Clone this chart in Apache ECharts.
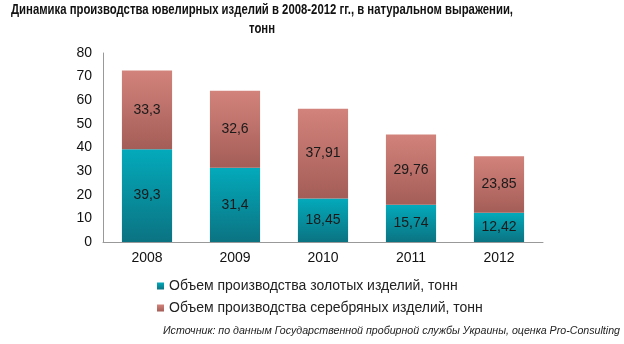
<!DOCTYPE html>
<html><head><meta charset="utf-8">
<script src="https://cdn.jsdelivr.net/npm/echarts@6/dist/echarts.min.js"></script>
<style>html,body{margin:0;padding:0;background:#fff}#c{width:624px;height:344px}</style>
</head><body><div id="c"></div>
<script>
const years = ['2008','2009','2010','2011','2012'];
const goldValues = [39.3, 31.4, 18.45, 15.74, 12.42];
const silverValues = [33.3, 32.6, 37.91, 29.76, 23.85];
const goldLabels = ['39,3','31,4','18,45','15,74','12,42'];
const silverLabels = ['33,3','32,6','37,91','29,76','23,85'];
const seriesNames = ['Объем производства золотых изделий, тонн','Объем производства серебряных изделий, тонн'];
const titleLine1 = 'Динамика производства ювелирных изделий в 2008-2012 гг., в натуральном выражении,';
const titleLine2 = 'тонн';
const sourceText = 'Источник: по данным Государственной пробирной службы Украины, оценка Pro-Consulting';

const chart = echarts.init(document.getElementById('c'), null, {renderer:'canvas'});
function grad(top, bottom){
  return new echarts.graphic.LinearGradient(0,0,0,1,[{offset:0,color:top},{offset:1,color:bottom}]);
}
const ctx = document.createElement('canvas').getContext('2d');
const titleFont = 'bold 14px "Liberation Sans", Arial, sans-serif';
ctx.font = titleFont;
const tw = ctx.measureText(titleLine1).width;
const tScale = 502 / tw;
const srcFont = 'italic 11px "Liberation Sans", Arial, sans-serif';
ctx.font = srcFont;
const sw = ctx.measureText(sourceText).width;
const sScale = 457 / sw;

chart.setOption({
  animation:false,
  grid:{left:103,right:81,top:53,bottom:102},
  legend:{
    orient:'vertical', left:152, top:274, itemGap:8, itemWidth:7, itemHeight:7, icon:'rect',
    textStyle:{fontFamily:'Liberation Sans, Arial, sans-serif',fontSize:14,color:'#222'},
    data:seriesNames
  },
  graphic:[
    {type:'text', x:262, y:3, scaleX:tScale, originX:0, style:{text:titleLine1, font:titleFont, fill:'#111', align:'center', verticalAlign:'top'}},
    {type:'text', x:262, y:22, scaleX:tScale, originX:0, style:{text:titleLine2, font:titleFont, fill:'#111', align:'center', verticalAlign:'top'}},
    {type:'text', x:620, y:325, scaleX:sScale, originX:0, style:{text:sourceText, font:srcFont, fill:'#222', align:'right', verticalAlign:'top'}}
  ],
  xAxis:{type:'category',data:years,
    axisLine:{lineStyle:{color:'#999'}}, axisTick:{show:false},
    axisLabel:{fontFamily:'Liberation Sans, Arial, sans-serif',fontSize:14,color:'#111',margin:9}},
  yAxis:{type:'value',min:0,max:80,interval:10,
    axisLine:{show:true,lineStyle:{color:'#999'}}, axisTick:{show:false}, splitLine:{show:false},
    axisLabel:{fontFamily:'Liberation Sans, Arial, sans-serif',fontSize:14,color:'#111',margin:11}},
  series:[
    {name:seriesNames[0],type:'bar',stack:'a',barWidth:'57%',data:goldValues,
     itemStyle:{color:grad('#03aabb','#0b7382')},
     label:{show:true,position:'inside',formatter:p=>goldLabels[p.dataIndex],fontFamily:'Liberation Sans, Arial, sans-serif',fontSize:14,color:'#1a1a1a'}},
    {name:seriesNames[1],type:'bar',stack:'a',barWidth:'57%',data:silverValues,
     itemStyle:{color:grad('#d2837b','#a45d57')},
     label:{show:true,position:'inside',formatter:p=>silverLabels[p.dataIndex],fontFamily:'Liberation Sans, Arial, sans-serif',fontSize:14,color:'#1a1a1a'}}
  ]
});
</script></body></html>
